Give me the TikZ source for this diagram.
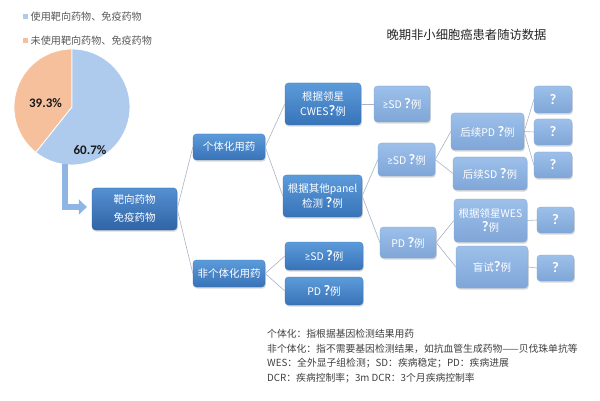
\documentclass[tikz,border=0pt]{standalone}
\usepackage{fontspec}
\setmainfont{Noto Sans CJK SC}
\newfontfamily\qf{Carlito}
\usetikzlibrary{shadows,arrows.meta}
\definecolor{darkT}{HTML}{5C9BDA}
\definecolor{darkB}{HTML}{3873B8}
\definecolor{mainT}{HTML}{5590D2}
\definecolor{mainB}{HTML}{2F64A6}
\definecolor{lightT}{HTML}{9DC0EA}
\definecolor{lightB}{HTML}{7FA6D8}
\definecolor{lineC}{HTML}{A8B4C6}
\definecolor{pieB}{HTML}{AECAEC}
\definecolor{pieO}{HTML}{F6C09C}
\definecolor{arrC}{HTML}{8EB5E3}
\definecolor{txtC}{HTML}{404040}
\definecolor{legC}{HTML}{595959}
\newcommand\qmk{{\qf\bfseries\fontsize{14.5}{14}\selectfont ?}}
\newcommand\gek{{\qf\fontsize{11.5}{14}\selectfont ≥}}
\tikzset{
  box/.style={rounded corners=3.5pt, text=white, align=center, inner sep=1pt,
    font=\fontsize{10.5}{15}\selectfont,
    drop shadow={opacity=0.3, shadow xshift=0.8pt, shadow yshift=-1.6pt}},
  dark/.style={box, top color=darkT, bottom color=darkB, draw=darkB, line width=0.3pt},
  mainbox/.style={box, top color=mainT, bottom color=mainB, draw=mainB, line width=0.3pt},
  light/.style={box, top color=lightT, bottom color=lightB, draw=lightB, line width=0.3pt},
  conn/.style={draw=lineC, line width=0.6pt},
  note/.style={anchor=west, inner sep=0, text=txtC, font=\fontsize{9.8}{12}\selectfont},
}
\begin{document}
\begin{tikzpicture}[x=1pt,y=-1pt]
\useasboundingbox[fill=white] (0,0) rectangle (600,401);
% legend
\fill[pieB] (22.5,14.5) rectangle (27.5,19.5);
\fill[pieO] (22.5,38.5) rectangle (27.5,43.5);
\node[anchor=west, inner sep=0, text=legC, font=\fontsize{10.1}{12}\selectfont] (leg1) at (30.5,17) {使用靶向药物、免疫药物};
\node[anchor=west, inner sep=0, text=legC, font=\fontsize{10.1}{12}\selectfont] (leg2) at (30.5,41) {未使用靶向药物、免疫药物};
% pie
\fill[pieO, draw=white, line width=0.8pt] (72,107) -- ++(90:58pt) arc[start angle=90, end angle=231.48, radius=58pt] -- cycle;
\fill[pieB, draw=white, line width=0.8pt] (72,107) -- ++(231.48:58pt) arc[start angle=231.48, end angle=450, radius=58pt] -- cycle;
\node[font=\qf\bfseries\fontsize{13}{14}\selectfont, text=black!90] (p1) at (45.5,103) {39.3\%};
\node[font=\qf\bfseries\fontsize{13}{14}\selectfont, text=black!90] (p2) at (90,150) {60.7\%};
% title
\node[font=\fontsize{12.3}{14}\selectfont, text=black!85] (title) at (466.5,35) {晚期非小细胞癌患者随访数据};
% nodes
\node[mainbox, minimum width=85pt, minimum height=42pt, font=\fontsize{10.5}{18}\selectfont] (main) at (134.5,209) {靶向药物\\免疫药物};
\node[dark, minimum width=72pt, minimum height=26pt] (ind) at (229,147) {个体化用药};
\node[dark, minimum width=72pt, minimum height=27pt] (non) at (229,273.5) {非个体化用药};
\node[dark, minimum width=76pt, minimum height=42pt] (cwes) at (323,104) {根据领星\\CWES\qmk 例};
\node[dark, minimum width=79pt, minimum height=42pt] (panel) at (322.5,196) {根据其他panel\\检测 \qmk 例};
\node[dark, minimum width=78pt, minimum height=28pt] (sd1) at (324,256) {\gek SD \qmk 例};
\node[dark, minimum width=78pt, minimum height=28pt] (pd1) at (324,291) {PD \qmk 例};
\node[light, minimum width=56pt, minimum height=36pt] (sda) at (402,104) {\gek SD \qmk 例};
\node[light, minimum width=57pt, minimum height=33pt] (sdb) at (406.5,159.5) {\gek SD \qmk 例};
\node[light, minimum width=56pt, minimum height=31pt] (pdb) at (408,242.5) {PD \qmk 例};
\node[light, minimum width=73pt, minimum height=37pt] (hpd) at (487.5,131.5) {后续PD \qmk 例};
\node[light, minimum width=74pt, minimum height=33pt] (hsd) at (490,173.5) {后续SD \qmk 例};
\node[light, minimum width=73pt, minimum height=43pt, font=\fontsize{10.5}{14}\selectfont] (wes) at (490.5,220.5) {根据领星WES\\\qmk 例};
\node[light, minimum width=72pt, minimum height=42pt] (blind) at (492,267) {盲试\qmk 例};
\node[light, minimum width=38pt, minimum height=27pt] (q1) at (553,99.5) {\qmk};
\node[light, minimum width=38pt, minimum height=26pt] (q2) at (553,132) {\qmk};
\node[light, minimum width=38pt, minimum height=26pt] (q3) at (553,165) {\qmk};
\node[light, minimum width=37pt, minimum height=26pt] (q4) at (555.5,220) {\qmk};
\node[light, minimum width=37pt, minimum height=26pt] (q5) at (555.5,268) {\qmk};
% connectors
\draw[conn] (main.east) -- (ind.west);
\draw[conn] (main.east) -- (non.west);
\draw[conn] (ind.east) -- (cwes.west);
\draw[conn] (ind.east) -- (panel.west);
\draw[conn] (non.east) -- (sd1.west);
\draw[conn] (non.east) -- (pd1.west);
\draw[conn] (cwes.east) -- (sda.west);
\draw[conn] (panel.east) -- (sdb.west);
\draw[conn] (panel.east) -- (pdb.west);
\draw[conn] (sdb.east) -- (hpd.west);
\draw[conn] (sdb.east) -- (hsd.west);
\draw[conn] (hpd.east) -- (q1.west);
\draw[conn] (hpd.east) -- (q2.west);
\draw[conn] (hpd.east) -- (q3.west);
\draw[conn] (pdb.east) -- (wes.west);
\draw[conn] (pdb.east) -- (blind.west);
\draw[conn] (wes.east) -- (q4.west);
\draw[conn] (blind.east) -- (q5.west);
% arrow from pie
\coordinate (pieb) at (65,164);
\draw[arrC, line width=6pt, -{Triangle[width=15pt,length=8pt]}] (pieb) |- ([xshift=-5pt,yshift=2pt]main.west);
% notes
\node[note] (n1) at (267,334) {个体化：指根据基因检测结果用药};
\node[note] (n2) at (267,349) {非个体化：指不需要基因检测结果，如抗血管生成药物——贝伐珠单抗等};
\node[note] (n3) at (267,363.5) {WES：全外显子组检测；SD：疾病稳定；PD：疾病进展};
\node[note] (n4) at (267,378) {DCR：疾病控制率；3m DCR：3个月疾病控制率};
\end{tikzpicture}
\end{document}
